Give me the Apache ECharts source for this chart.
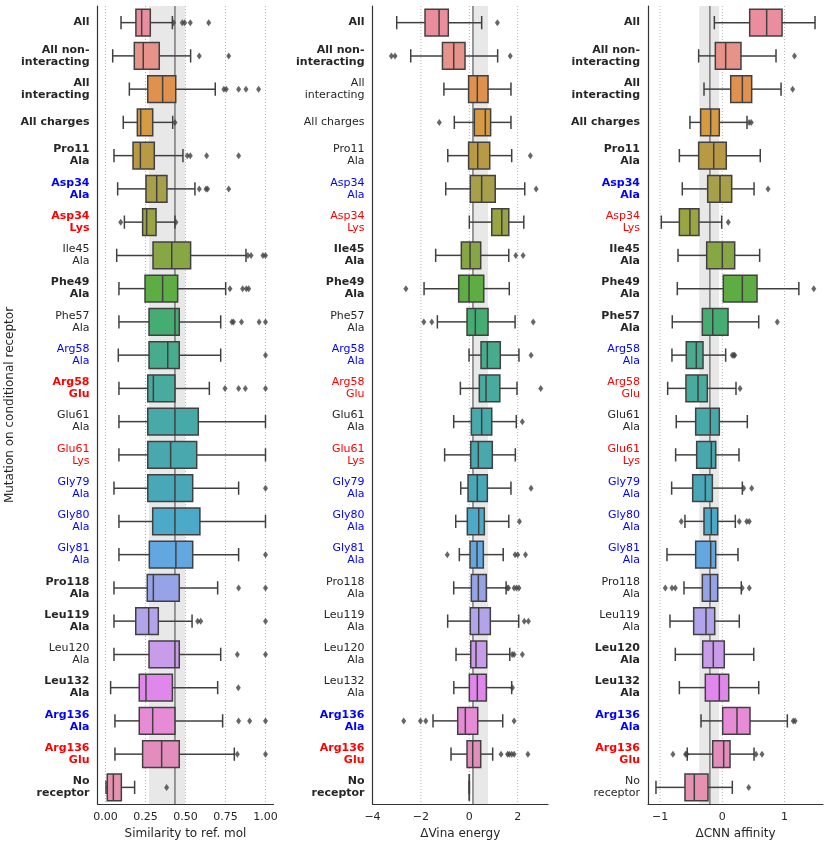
<!DOCTYPE html>
<html>
<head>
<meta charset="utf-8" />
<title>Mutation boxplots</title>
<script src="https://cdn.jsdelivr.net/npm/echarts@6/dist/echarts.min.js"></script>
<style>
  html, body { margin:0; padding:0; background:#fff; }
  #main { width:830px; height:849px; }
</style>
</head>
<body>
<div id="main"></div>
<script type="text/javascript">

// categories (top to bottom)
var categories = ['All', 'All non-\ninteracting', 'All\ninteracting', 'All charges', 'Pro11\nAla',
    'Asp34\nAla', 'Asp34\nLys', 'Ile45\nAla', 'Phe49\nAla', 'Phe57\nAla', 'Arg58\nAla', 'Arg58\nGlu',
    'Glu61\nAla', 'Glu61\nLys', 'Gly79\nAla', 'Gly80\nAla', 'Gly81\nAla', 'Pro118\nAla', 'Leu119\nAla',
    'Leu120\nAla', 'Leu132\nAla', 'Arg136\nAla', 'Arg136\nGlu', 'No\nreceptor'];

// label look per panel: k = black, b = blue, r = red, trailing B = bold
var simLabelStyle  = ['kB','kB','kB','kB','kB','bB','rB','k','kB','k','b','rB','k','r','b','b','b','kB','kB','k','kB','bB','rB','kB'];
var vinaLabelStyle = ['kB','kB','k','k','k','b','r','kB','kB','k','b','r','k','r','b','b','b','k','k','k','k','bB','rB','kB'];
var cnnLabelStyle  = ['kB','kB','kB','kB','kB','bB','r','kB','kB','kB','b','r','k','r','b','b','b','k','k','kB','kB','bB','rB','k'];

// [low whisker, Q1, median, Q3, high whisker]
var simBoxes = [
    [0.097,0.19,0.226,0.28,0.418], [0.045,0.18,0.236,0.336,0.532], [0.149,0.264,0.357,0.439,0.686],
    [0.111,0.199,0.22,0.295,0.42], [0.053,0.172,0.218,0.305,0.484], [0.076,0.253,0.32,0.384,0.559],
    [0.118,0.232,0.257,0.316,0.434], [0.07,0.297,0.414,0.532,0.878], [0.084,0.247,0.357,0.451,0.751],
    [0.084,0.272,0.434,0.461,0.72], [0.08,0.272,0.389,0.461,0.72], [0.084,0.264,0.299,0.434,0.649],
    [0.084,0.264,0.434,0.58,1.0], [0.084,0.264,0.407,0.57,1.0], [0.053,0.264,0.434,0.545,0.832],
    [0.084,0.295,0.434,0.59,1.0], [0.084,0.274,0.44,0.545,0.832], [0.053,0.261,0.299,0.461,0.701],
    [0.053,0.189,0.27,0.33,0.541], [0.053,0.272,0.434,0.461,0.72], [0.032,0.211,0.253,0.418,0.701],
    [0.059,0.211,0.295,0.434,0.732], [0.059,0.232,0.351,0.461,0.805], [0.003,0.011,0.049,0.099,0.182]
];
var simOutliers = [
    [0.425,0.48,0.495,0.53,0.645], [0.586,0.77], [0.74,0.755,0.832,0.878,0.957], [0.434],
    [0.511,0.53,0.632,0.832], [0.586,0.628,0.638,0.77], [0.095,0.44], [0.89,0.91,0.984,1.0],
    [0.778,0.857,0.88,0.895], [0.79,0.8,0.85,0.96,1.0], [1.0], [0.747,0.832,0.874,1.0],
    [], [], [1.0], [], [1.0], [0.832,1.0], [0.576,0.595,1.0], [0.824,1.0], [0.83],
    [0.832,0.901,1.0], [0.824,1.0], [0.382]
];

var vinaBoxes = [
    [-3.0,-1.83,-1.25,-0.868,0.51], [-2.42,-1.11,-0.645,-0.178,1.17], [-1.05,-0.03,0.33,0.773,1.72],
    [-0.62,0.207,0.661,0.88,1.72], [-0.89,-0.03,0.347,0.843,1.75], [-0.975,0.04,0.51,1.07,2.29],
    [0.0,0.926,1.34,1.63,2.25], [-1.39,-0.33,0.03,0.47,1.63], [-1.87,-0.44,-0.012,0.595,1.65],
    [-1.32,-0.095,0.248,0.773,1.89], [-0.012,0.483,0.744,1.28,2.05], [-0.37,0.413,0.69,1.26,1.97],
    [-0.645,0.083,0.51,0.926,1.94], [-1.02,0.058,0.372,0.95,1.9], [-0.355,-0.054,0.33,0.744,1.72],
    [-0.562,-0.083,0.388,0.62,1.63], [-0.413,0.03,0.318,0.579,1.4], [-0.645,0.083,0.372,0.702,1.52],
    [-0.895,0.04,0.388,0.868,2.04], [-0.55,0.058,0.276,0.719,1.67], [-0.64,0.0,0.33,0.702,1.75],
    [-1.5,-0.48,-0.165,0.347,1.38], [-0.756,-0.095,0.14,0.47,0.965], [0,0,0,0,0]
];
var vinaOutliers = [
    [1.16], [-3.22,-3.07,1.69], [], [-1.24], [2.52], [2.76], [], [1.92,2.22], [-2.62],
    [-1.88,-1.55,2.64], [2.55], [2.95], [2.19], [], [2.55], [2.07], [-0.909,1.89,2.0,2.32],
    [1.56,1.62,1.85,1.95,2.05], [2.27,2.44], [1.77,1.85,2.19], [1.78], [-2.71,-2.02,-1.8,1.85],
    [1.31,1.58,1.65,1.75,1.85,2.42], []
];

var cnnBoxes = [
    [-0.128,0.44,0.713,0.96,1.49], [-0.38,-0.112,0.054,0.3,0.863], [-0.294,0.135,0.322,0.472,0.944],
    [-0.52,-0.348,-0.187,-0.048,0.397], [-0.69,-0.38,-0.138,0.064,0.61], [-0.643,-0.235,-0.037,0.151,0.51],
    [-0.98,-0.69,-0.52,-0.375,-0.01], [-0.712,-0.251,0.0,0.199,0.6], [-0.723,0.016,0.322,0.558,1.23],
    [-0.804,-0.321,-0.154,0.092,0.585], [-0.809,-0.579,-0.418,-0.31,0.054], [-0.878,-0.584,-0.39,-0.241,0.22],
    [-0.74,-0.428,-0.193,-0.048,0.402], [-0.75,-0.412,-0.177,-0.106,0.268], [-0.814,-0.476,-0.273,-0.16,0.322],
    [-0.6,-0.294,-0.177,-0.074,0.209], [-0.889,-0.428,-0.187,-0.106,0.252], [-0.616,-0.321,-0.193,-0.074,0.305],
    [-0.841,-0.46,-0.262,-0.122,0.273], [-0.755,-0.315,-0.145,0.032,0.505], [-0.69,-0.273,-0.048,0.103,0.585],
    [-0.342,0.006,0.236,0.445,1.045], [-0.563,-0.154,0.022,0.124,0.51], [-1.066,-0.6,-0.45,-0.23,0.161]
];
var cnnOutliers = [
    [], [1.16], [1.13], [0.43,0.466], [], [0.735], [0.096], [], [1.47], [0.884], [0.16,0.185,0.2],
    [0.285], [], [], [0.344,0.472], [-0.659,0.273,0.392,0.434], [], [-0.916,-0.809,-0.755,0.32,0.434],
    [], [], [], [1.14,1.17], [-0.793,-0.59,-0.57,0.542,0.638], [0.424]
];

// shaded reference band and reference line
var simBand = [0.272, 0.497], simRef = 0.434;
var vinaBand = [0.15, 0.77], vinaRef = 0.15;
var cnnBand = [-0.37, -0.05], cnnRef = -0.2;

// x tick values
var simTicks = [0, 0.25, 0.5, 0.75, 1.0];
var vinaTicks = [-4, -2, 0, 2];
var cnnTicks = [-1, 0, 1];

var palette = ['#ea8e9e','#e8938a','#e0914e','#d69a43','#b89a45','#a89f4a','#9ba442','#86a744',
    '#5ead44','#45ad72','#48ab8e','#49aa9e','#47a9a8','#49a8ae','#48a8b8','#4ca9c8',
    '#63a7e0','#96a3e6','#b2a3eb','#c89ce8','#e087ec','#e88bd7','#e38dbd','#e592b1'];

var INK = '#262626';
var EDGE = '#404040';

var rich = {
    k:  {color: INK, fontWeight: 'normal', fontSize: 11, lineHeight: 12, align: 'right'},
    kB: {color: INK, fontWeight: 'bold', fontSize: 11, lineHeight: 12, align: 'right'},
    b:  {color: '#0000ff', fontWeight: 'normal', fontSize: 11, lineHeight: 12, align: 'right'},
    bB: {color: '#0000ff', fontWeight: 'bold', fontSize: 11, lineHeight: 12, align: 'right'},
    r:  {color: '#ff0000', fontWeight: 'normal', fontSize: 11, lineHeight: 12, align: 'right'},
    rB: {color: '#ff0000', fontWeight: 'bold', fontSize: 11, lineHeight: 12, align: 'right'}
};

function fmtTick(v, decimals) {
    var s = Math.abs(v).toFixed(decimals);
    return v < 0 ? '\u2212' + s : s;
}

// seaborn-like box: half-height caps on the whiskers
function renderBox(params, api) {
    var k = api.value(0);
    var lo = api.coord([api.value(1), k]);
    var q1 = api.coord([api.value(2), k]);
    var med = api.coord([api.value(3), k]);
    var q3 = api.coord([api.value(4), k]);
    var hi = api.coord([api.value(5), k]);
    var h = api.size([0, 1])[1] * 0.8;
    var y = lo[1];
    var ln = {stroke: EDGE, lineWidth: 1.5};
    return {
        type: 'group',
        children: [
            {type: 'line', shape: {x1: lo[0], y1: y, x2: q1[0], y2: y}, style: ln},
            {type: 'line', shape: {x1: q3[0], y1: y, x2: hi[0], y2: y}, style: ln},
            {type: 'line', shape: {x1: lo[0], y1: y - h / 4, x2: lo[0], y2: y + h / 4}, style: ln},
            {type: 'line', shape: {x1: hi[0], y1: y - h / 4, x2: hi[0], y2: y + h / 4}, style: ln},
            {type: 'rect', shape: {x: q1[0], y: y - h / 2, width: q3[0] - q1[0], height: h},
             style: {fill: palette[k], stroke: EDGE, lineWidth: 1.5}},
            {type: 'line', shape: {x1: med[0], y1: y - h / 2, x2: med[0], y2: y + h / 2}, style: ln}
        ]
    };
}

// band, dotted grid lines at ticks and solid reference line, all behind the boxes
function makeBackground(ticks) {
    return function (params, api) {
        var cs = params.coordSys;
        var top = cs.y, bottom = cs.y + cs.height;
        var b0 = api.coord([api.value(0), 0])[0];
        var b1 = api.coord([api.value(1), 0])[0];
        var r = api.coord([api.value(2), 0])[0];
        var children = [
            {type: 'rect', shape: {x: b0, y: top, width: b1 - b0, height: bottom - top},
             style: {fill: '#e8e8e8'}}
        ];
        ticks.forEach(function (t) {
            var x = api.coord([t, 0])[0];
            children.push({type: 'line', shape: {x1: x, y1: top, x2: x, y2: bottom},
                style: {stroke: '#b5b5b5', lineWidth: 1, lineDash: [1, 2]}});
        });
        children.push({type: 'line', shape: {x1: r, y1: top, x2: r, y2: bottom},
            style: {stroke: '#808080', lineWidth: 1.6}});
        return {type: 'group', children: children};
    };
}

var panels = [
    {boxes: simBoxes, outliers: simOutliers, style: simLabelStyle, band: simBand, ref: simRef,
     ticks: simTicks, dec: 2, name: 'Similarity to ref. mol', min: -0.05, max: 1.05, left: 97.5, width: 176},
    {boxes: vinaBoxes, outliers: vinaOutliers, style: vinaLabelStyle, band: vinaBand, ref: vinaRef,
     ticks: vinaTicks, dec: 0, name: '\u0394Vina energy', min: -4, max: 3.25, left: 372.5, width: 175.5},
    {boxes: cnnBoxes, outliers: cnnOutliers, style: cnnLabelStyle, band: cnnBand, ref: cnnRef,
     ticks: cnnTicks, dec: 0, name: '\u0394CNN affinity', min: -1.194, max: 1.618, left: 648, width: 175}
];

var grids = [], xAxes = [], yAxes = [], series = [];

panels.forEach(function (p, i) {
    grids.push({left: p.left, top: 6, width: p.width, height: 798});

    xAxes.push({
        type: 'value', gridIndex: i, min: p.min, max: p.max,
        name: p.name, nameLocation: 'middle', nameGap: 23,
        nameTextStyle: {fontSize: 12, color: INK},
        axisLine: {show: true, lineStyle: {color: '#333', width: 1.2}},
        axisTick: {show: false},
        splitLine: {show: false},
        axisLabel: {
            customValues: p.ticks, fontSize: 11, color: INK, margin: 8,
            formatter: (function (dec) { return function (v) { return fmtTick(v, dec); }; })(p.dec)
        }
    });

    yAxes.push({
        type: 'category', gridIndex: i, data: categories, inverse: true,
        axisLine: {show: true, lineStyle: {color: '#333', width: 1.2}, onZero: false},
        axisTick: {show: false},
        splitLine: {show: false},
        z: 10,
        axisLabel: {
            margin: 8, rich: rich,
            formatter: (function (st) {
                return function (value, idx) {
                    var s = st[idx];
                    return value.split('\n').map(function (l) { return '{' + s + '|' + l + '}'; }).join('\n');
                };
            })(p.style)
        }
    });

    series.push({
        type: 'custom', xAxisIndex: i, yAxisIndex: i, z: 1, silent: true,
        renderItem: makeBackground(p.ticks),
        encode: {x: [0, 1, 2], y: 3},
        data: [[p.band[0], p.band[1], p.ref, 0]]
    });

    series.push({
        type: 'custom', xAxisIndex: i, yAxisIndex: i, z: 3, silent: true,
        renderItem: renderBox,
        encode: {x: [1, 2, 3, 4, 5], y: 0},
        data: p.boxes.map(function (b, k) { return [k].concat(b); })
    });

    var pts = [];
    p.outliers.forEach(function (arr, k) {
        arr.forEach(function (v) { pts.push([v, k]); });
    });
    series.push({
        type: 'scatter', xAxisIndex: i, yAxisIndex: i, z: 4, silent: true,
        symbol: 'diamond', symbolSize: [5, 7],
        itemStyle: {color: EDGE},
        data: pts
    });
});

var myChart = echarts.init(document.getElementById('main'));
myChart.setOption({
    backgroundColor: '#fff',
    animation: false,
    textStyle: {fontFamily: 'DejaVu Sans'},
    grid: grids,
    xAxis: xAxes,
    yAxis: yAxes,
    series: series,
    graphic: [{
        type: 'text', x: 10, y: 405, rotation: Math.PI / 2,
        style: {text: 'Mutation on conditional receptor', font: '12px "DejaVu Sans"', fill: INK,
                align: 'center', verticalAlign: 'middle'}
    }]
});
</script>
</body>
</html>
